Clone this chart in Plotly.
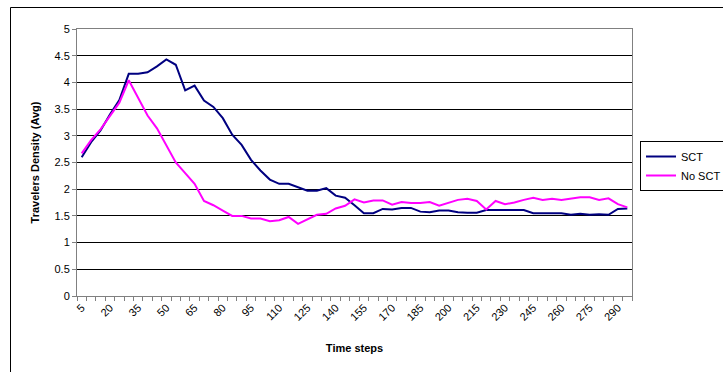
import plotly.graph_objects as go

time_steps = list(range(5, 300, 5))  # 5 .. 295 (59 categories)
tick_labels = [str(v) for v in range(5, 295, 15)]  # 5, 20, ..., 290

sct = [2.60, 2.88, 3.10, 3.40, 3.67, 4.16, 4.16, 4.19, 4.30, 4.43,
       4.33, 3.85, 3.94, 3.66, 3.54, 3.33, 3.02, 2.83, 2.55, 2.35,
       2.18, 2.10, 2.10, 2.03, 1.97, 1.97, 2.02, 1.88, 1.84, 1.70,
       1.55, 1.55, 1.63, 1.62, 1.65, 1.65, 1.58, 1.57, 1.60, 1.60,
       1.57, 1.56, 1.56, 1.61, 1.61, 1.61, 1.61, 1.61, 1.55, 1.55,
       1.55, 1.55, 1.52, 1.54, 1.52, 1.53, 1.52, 1.63, 1.64]

no_sct = [2.67, 2.92, 3.12, 3.38, 3.62, 4.04, 3.72, 3.38, 3.14, 2.82,
          2.50, 2.30, 2.10, 1.78, 1.70, 1.60, 1.50, 1.50, 1.45, 1.45,
          1.40, 1.42, 1.48, 1.35, 1.43, 1.52, 1.54, 1.64, 1.69, 1.81,
          1.75, 1.79, 1.79, 1.71, 1.76, 1.74, 1.74, 1.76, 1.69, 1.74,
          1.80, 1.82, 1.78, 1.62, 1.78, 1.72, 1.75, 1.80, 1.84, 1.80,
          1.82, 1.80, 1.82, 1.85, 1.85, 1.80, 1.83, 1.72, 1.66]

W, H = 723, 372
L, R, T, B = 77, 632, 29, 296

fig = go.Figure()
fig.add_trace(go.Scatter(x=time_steps, y=sct, mode="lines", name="SCT",
                         line=dict(color="#000080", width=2)))
fig.add_trace(go.Scatter(x=time_steps, y=no_sct, mode="lines", name="No SCT",
                         line=dict(color="#FF00FF", width=2)))

font_family = "Liberation Sans, Arial, sans-serif"
pw, ph = R - L, B - T

# outer chart border (extends beyond the visible window like the original)
fig.add_shape(type="rect", xref="paper", yref="paper",
              x0=(10.5 - L) / pw, x1=(760 - L) / pw,
              y0=(B - 420) / ph, y1=(B - 7.5) / ph,
              line=dict(color="black", width=1), fillcolor="rgba(0,0,0,0)",
              layer="above")

fig.update_layout(
    width=W, height=H,
    margin=dict(l=L, r=W - R, t=T, b=H - B, autoexpand=False),
    paper_bgcolor="white", plot_bgcolor="white",
    font=dict(family=font_family, size=11, color="black"),
    showlegend=True,
    legend=dict(x=(640 - L) / pw, y=(B - 141) / ph,
                xanchor="left", yanchor="top", itemwidth=30,
                bordercolor="black", borderwidth=1, bgcolor="white",
                font=dict(size=11), tracegroupgap=0),
    xaxis=dict(range=[2.5, 297.5], tickmode="array",
               tickvals=[int(t) for t in tick_labels], ticktext=tick_labels,
               tickangle=-45, ticks="", showgrid=False, zeroline=False,
               showline=True, linecolor="#808080", linewidth=1, mirror=True,
               tickfont=dict(size=11),
               minor=dict(tick0=2.5, dtick=5, ticks="outside", ticklen=4,
                          tickcolor="#808080", showgrid=False),
               title=dict(text="<b>Time steps</b>", font=dict(size=11), standoff=22)),
    yaxis=dict(range=[0, 5], dtick=0.5, showgrid=True, gridcolor="black", gridwidth=1,
               zeroline=False, showline=True, linecolor="#808080", linewidth=1, mirror=True,
               ticks="outside", ticklen=4, tickcolor="#808080", tickfont=dict(size=11),
               title=dict(text="<b>Travelers Density (Avg)</b>", font=dict(size=11), standoff=12)),
)

fig.write_html("out.html",
               config={"displayModeBar": False},
               post_script="document.body.style.margin='0';"
                           "document.body.style.overflow='hidden';")
